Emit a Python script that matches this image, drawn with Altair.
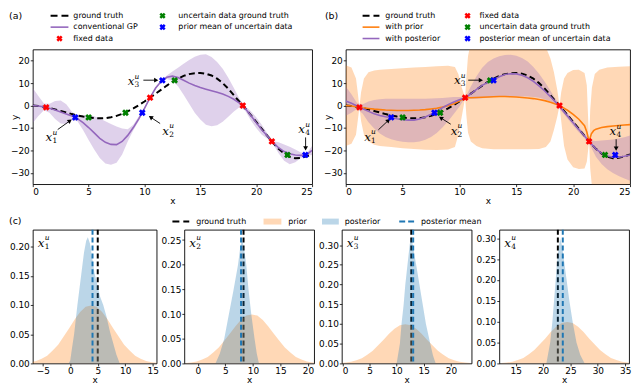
import math
import altair as alt
import pandas as pd

FONT = "DejaVu Sans"
MFONT = "DejaVu Serif"
PURPLE = "#9467bd"
ORANGE = "#ff7f0e"
TBLUE = "#1f77b4"
RED, GREEN, BLUE = "#ff0000", "#008000", "#0000ff"

# ---------------- data ----------------
x_grid = [0.0, 0.5, 1.0, 1.5, 2.0, 2.5, 3.0, 3.5, 4.0, 4.5,
          5.0, 5.5, 6.0, 6.5, 7.0, 7.5, 8.0, 8.5, 9.0, 9.5,
          10.0, 10.5, 11.0, 11.5, 12.0, 12.5, 13.0, 13.5, 14.0, 14.5,
          15.0, 15.5, 16.0, 16.5, 17.0, 17.5, 18.0, 18.5, 19.0, 19.5,
          20.0, 20.5, 21.0, 21.5, 22.0, 22.5, 23.0, 23.5, 24.0, 24.5,
          25.0]
ground_truth = [0.0, -0.2, -0.6, -1.1, -1.7, -2.4, -3.1, -3.8, -4.4, -4.9,
                -5.3, -5.6, -5.7, -5.6, -5.2, -4.6, -3.7, -2.6, -1.3, 0.2,
                1.8, 3.5, 5.3, 7.1, 8.9, 10.6, 12.0, 13.2, 14.0, 14.4,
                14.5, 14.2, 13.4, 12.0, 10.0, 7.5, 4.6, 1.7, -1.2, -4.2,
                -7.3, -10.4, -13.5, -16.6, -19.3, -21.4, -22.8, -23.5, -23.3, -22.6,
                -21.8]
conv_gp_mean = [0.0, -0.2, -0.6, -1.2, -2.0, -2.9, -3.8, -4.7, -5.8, -7.6,
                -9.8, -12.2, -14.6, -16.4, -17.3, -17.4, -16.0, -13.3, -9.8, -5.8,
                -1.3, 3.5, 7.8, 10.8, 12.6, 13.1, 12.5, 11.3, 10.0, 8.9,
                8.0, 7.3, 6.6, 5.9, 5.1, 4.1, 2.8, 1.1, -1.2, -4.3,
                -7.6, -10.8, -13.6, -16.4, -18.8, -20.5, -21.5, -22.0, -22.2, -21.9,
                -20.0]
conv_gp_hi = [7.8, 4.2, 0.9, 0.8, 2.0, 2.2, 0.6, -2.8, -4.6, -4.3,
              -4.2, -4.8, -5.8, -7.0, -8.2, -9.3, -10.2, -10.6, -8.6, -4.8,
              -0.8, 3.5, 8.2, 11.0, 13.4, 15.2, 16.8, 18.6, 20.3, 21.7,
              22.6, 22.9, 21.6, 19.4, 16.4, 12.4, 7.8, 3.0, -0.2, -2.4,
              -5.2, -8.6, -12.4, -15.9, -16.4, -17.4, -18.4, -19.6, -20.9, -21.4,
              -18.0]
conv_gp_lo = [-7.8, -4.6, -2.1, -3.2, -6.0, -8.0, -8.2, -6.6, -7.0, -10.9,
              -15.4, -19.6, -23.4, -25.8, -26.4, -25.5, -21.8, -16.0, -11.0, -6.8,
              -1.8, 3.5, 7.4, 10.6, 11.8, 11.0, 8.6, 4.8, 0.8, -3.2,
              -6.2, -8.6, -9.2, -8.8, -7.2, -5.0, -2.6, -0.8, -2.2, -6.4,
              -10.0, -13.0, -14.8, -17.0, -21.2, -24.6, -26.2, -25.2, -23.4, -22.4,
              -22.0]
post_gp_mean = [2.0, 1.0, -0.2, -1.4, -2.6, -3.6, -4.4, -5.0, -5.4, -5.9,
                -6.3, -6.5, -6.5, -6.0, -5.1, -3.9, -2.5, -1.0, 0.4, 1.6,
                2.6, 3.5, 5.2, 7.2, 9.0, 10.4, 11.5, 12.8, 13.8, 14.2,
                14.1, 13.5, 12.4, 10.8, 8.8, 6.5, 4.0, 1.3, -1.6, -4.6,
                -7.7, -10.7, -13.6, -16.6, -19.3, -21.3, -22.5, -23.0, -23.0, -22.6,
                -22.0]
post_gp_hi = [8.5, 5.0, 1.0, 0.6, 1.8, 2.5, 2.8, 3.0, 3.0, 3.0,
              3.0, 3.0, 3.0, 3.0, 3.0, 3.1, 3.2, 3.4, 3.6, 3.8,
              3.8, 3.5, 8.5, 13.0, 16.8, 19.4, 21.0, 22.0, 22.5, 22.6,
              22.2, 21.2, 19.6, 17.2, 14.2, 10.6, 6.6, 2.6, -0.6, -3.4,
              -6.4, -9.5, -12.6, -15.6, -15.8, -15.6, -15.4, -15.1, -14.7, -14.1,
              -13.3]
post_gp_lo = [-4.5, -3.2, -1.4, -3.6, -7.4, -10.2, -12.4, -14.0, -15.0, -15.7,
              -16.1, -16.3, -16.3, -16.0, -15.2, -14.0, -12.2, -9.8, -7.0, -3.8,
              -0.4, 3.5, 3.0, 3.0, 3.2, 3.5, 3.8, 4.0, 4.0, 4.0,
              4.0, 4.0, 4.0, 3.8, 3.5, 2.8, 1.8, 0.4, -2.6, -5.8,
              -9.0, -11.9, -14.6, -17.8, -22.8, -26.0, -28.4, -30.0, -31.4, -32.5,
              -33.5]
prior_gp_x = [0, 0.5, 1, 1.5, 2, 2.5, 3, 3.5, 4, 4.5,
              5, 5.5, 6, 6.5, 7, 7.5, 8, 8.5, 9, 9.5,
              10, 10.5, 11, 11.5, 12, 12.5, 13, 13.5, 14, 14.5,
              15, 15.5, 16, 16.5, 17, 17.5, 18, 18.5, 19, 19.5,
              20, 20.5, 21, 21.2, 21.4, 21.6, 21.8, 22, 22.5, 23,
              23.5, 24, 24.5, 25]
prior_gp_mean = [0.0, -0.2, -0.6, -1.0, -1.3, -1.6, -1.8, -2.0, -2.1, -2.2,
                 -2.2, -2.2, -2.1, -2.0, -1.8, -1.5, -1.2, -0.7, -0.1, 0.8,
                 2.0, 3.5, 3.5, 3.6, 3.7, 3.8, 3.9, 4.0, 4.0, 3.9,
                 3.8, 3.6, 3.4, 3.1, 2.7, 2.2, 1.5, 0.6, -0.6, -2.1,
                 -3.9, -6.1, -9.0, -11.8, -16.0, -12.6, -11.2, -10.5, -9.8, -9.4,
                 -9.1, -8.9, -8.7, -8.5]
prior_band_x = [0, 0.5, 0.9, 1.05, 1.2, 1.35, 1.6, 2.0, 2.5, 3.0,
                4, 5, 6, 7, 8, 9, 9.6, 9.9, 10.2, 10.5,
                10.6, 10.75, 11.0, 11.5, 12, 13, 14, 15, 16, 17,
                17.6, 18.0, 18.3, 18.6, 18.8, 18.95, 19.2, 19.5, 20, 20.5,
                21, 21.2, 21.4, 21.5, 21.65, 21.9, 22.3, 23, 24, 25]
prior_band_hi = [18, 17, 12, 6, -0.8, 6, 12, 14.8, 15.6, 16,
                 16.3, 16.6, 16.9, 17.2, 17.5, 17.7, 17.2, 14, 8, 3.5,
                 12, 22, 28, 30, 30, 30, 30, 30, 30, 29,
                 26, 21, 15, 7, 0, 6, 12, 14.5, 15.8, 16.0,
                 14.5, 9, -16, -2, 8, 14, 16, 17, 17.3, 17.5]
prior_band_lo = [-18, -17, -13, -7, -0.8, -7, -13, -16, -17.5, -18,
                 -18.5, -19, -19.4, -19.7, -19.8, -19.6, -18.5, -13, -5, 3.5,
                 -4, -12, -16, -18, -19, -19.5, -19.5, -19.5, -19.5, -19.3,
                 -18.5, -16, -11, -5, 0, -7, -18, -24, -27.5, -28.3,
                 -28, -25, -16, -28, -36, -40, -40, -40, -40, -40]

fixed_x = [1.2, 10.5, 18.8, 21.4]
fixed_y = [-0.8, 3.5, 0.0, -16.0]
unc_x = [5.0, 8.3, 12.7, 22.8]
unc_y = [-5.3, -3.2, 11.2, -22.0]
prior_unc_x = [3.8, 9.8, 11.6, 24.4]
post_unc_x = [4.0, 7.8, 13.0, 23.7]

# distributions of the uncertain inputs, panel (c)
prior_offset = [-12, -11, -10, -9, -8, -7, -6, -5, -4, -3, -2, -1, 0,
                1, 2, 3, 4, 5, 6, 7, 8, 9, 10, 11, 12]
prior_density = [0.001, 0.002, 0.004, 0.008, 0.013, 0.022, 0.032, 0.046, 0.060, 0.075,
                 0.088, 0.097, 0.099, 0.097, 0.088, 0.075, 0.060, 0.046, 0.032, 0.022,
                 0.013, 0.008, 0.004, 0.002, 0.001]
prior_center = [3.8, 9.8, 11.6, 24.4]
post1_x = [-0.3, 0.0, 0.3, 0.7, 1.0, 1.3, 1.7, 2.1, 2.5, 2.9, 3.2, 3.6, 4.0, 4.4,
           4.8, 5.4, 6.0, 6.6, 7.2, 7.8, 8.4, 9.0]
post1_d = [0, 0.005, 0.025, 0.05, 0.075, 0.10, 0.13, 0.16, 0.19, 0.21, 0.216, 0.205,
           0.18, 0.155, 0.14, 0.115, 0.10, 0.08, 0.055, 0.035, 0.015, 0]
post2_x = [3.2, 4.0, 4.8, 5.65, 6.5, 7.3, 7.7, 8.04, 8.4, 8.8, 9.2, 9.7, 10.3, 10.7, 11.1]
post2_d = [0, 0.02, 0.05, 0.10, 0.15, 0.20, 0.235, 0.253, 0.232, 0.20, 0.15, 0.10, 0.05, 0.02, 0]
post3_x = [10.0, 10.6, 10.9, 11.3, 11.6, 12.0, 12.4, 12.7, 13.1, 13.6, 14.2, 14.8, 15.4,
           16.2, 16.7, 17.2]
post3_d = [0, 0.05, 0.10, 0.15, 0.20, 0.25, 0.30, 0.322, 0.29, 0.25, 0.20, 0.15, 0.10,
           0.05, 0.02, 0]
post4_x = [20.6, 21.3, 21.7, 22.0, 22.3, 22.6, 23.1, 23.5, 23.8, 24.3, 24.8, 25.4, 26.1,
           26.8, 27.6]
post4_d = [0, 0.05, 0.10, 0.15, 0.20, 0.25, 0.30, 0.28, 0.25, 0.20, 0.15, 0.10, 0.05, 0.02, 0]
dist_truth = [5.0, 8.3, 12.7, 22.7]
dist_post_mean = [4.05, 7.85, 13.05, 23.6]

# annotation positions (data coords)
a_arrow = dict(x0=[2.23, 11.4, 9.9, 24.42], y0=[-10.7, -8.0, 11.3, -14.2],
               x1=[3.33, 10.55, 11.05, 24.42], y1=[-6.8, -5.2, 11.3, -19.1])
a_label = dict(x=[1.45, 11.9, 8.8, 24.07], y=[-14.2, -11.2, 10.9, -10.5])
b_arrow = dict(x0=[2.87, 9.23, 10.77, 23.78], y0=[-10.8, -8.3, 11.3, -15.0],
               x1=[3.75, 8.36, 11.88, 23.78], y1=[-6.6, -5.5, 11.3, -19.2])
b_label = dict(x=[1.92, 9.52, 9.81, 23.5], y=[-13.9, -11.2, 11.3, -11.5])

# ---------------- layout ----------------
WA, WB, HT = 282, 287, 136
WC1, WC, HB = 125, 131, 135
one = pd.DataFrame({"k": [0]})


def xt(field):
    return alt.X(f"{field}:Q", scale=alt.Scale(domain=[0, 25], nice=False, zero=False),
                 axis=alt.Axis(values=[0, 5, 10, 15, 20, 25], format="d", title="x"))


def yt_factory(tx):
    def yt(field):
        return alt.Y(f"{field}:Q", scale=alt.Scale(domain=[-35, 25], nice=False, zero=False),
                     axis=alt.Axis(values=[-30, -20, -10, 0, 10, 20], format="d", title="y",
                                   titleX=tx, titleY=HT / 2))
    return yt


def ptext(txt, px, py, size=8, font=FONT, **kw):
    return alt.Chart(one).mark_text(align="left", baseline="middle", font=font,
                                    fontSize=size, color="black", **kw).encode(
        x=alt.value(px), y=alt.value(py), text=alt.value(txt))


def pline(p0, p1, py, color, dash=None, width=1.6):
    kw = dict(color=color, strokeWidth=width)
    if dash:
        kw["strokeDash"] = dash
    return alt.Chart(one).mark_rule(**kw).encode(x=alt.value(p0), x2=alt.value(p1), y=alt.value(py))


def pmark(px, py, color):
    return alt.Chart(one).mark_point(shape="cross", angle=45, filled=True, size=40,
                                     color=color, opacity=1).encode(x=alt.value(px), y=alt.value(py))


def prect(p0, p1, q0, q1, color):
    return alt.Chart(one).mark_rect(color=color, opacity=0.3).encode(
        x=alt.value(p0), x2=alt.value(p1), y=alt.value(q0), y2=alt.value(q1))


def math_label_px(idx, px, py):
    return [
        ptext("x", px, py, size=12, font=MFONT, fontStyle="italic"),
        ptext("u", px + 7, py - 4.5, size=7.5, font=MFONT, fontStyle="italic"),
        ptext(idx, px + 7, py + 4, size=7.5, font=MFONT),
    ]


def math_labels(lab, X, Y):
    df = pd.DataFrame({"lx": lab["x"], "ly": lab["y"], "i": ["1", "2", "3", "4"]})
    base = alt.Chart(df)
    return [
        base.mark_text(font=MFONT, fontStyle="italic", fontSize=12, align="center",
                       baseline="middle", color="black").encode(x=X("lx"), y=Y("ly"), text=alt.value("x")),
        base.mark_text(font=MFONT, fontStyle="italic", fontSize=7.5, align="left",
                       baseline="middle", dx=3.5, dy=-4.5, color="black").encode(
            x=X("lx"), y=Y("ly"), text=alt.value("u")),
        base.mark_text(font=MFONT, fontSize=7.5, align="left", baseline="middle",
                       dx=3.5, dy=4, color="black").encode(x=X("lx"), y=Y("ly"), text="i:N"),
    ]


def arrows(ar, sx, X, Y):
    sy = HT / 60
    ang = [(math.degrees(math.atan2((b - a) * sx, (d - c) * sy)) + 360) % 360
           for a, b, c, d in zip(ar["x0"], ar["x1"], ar["y0"], ar["y1"])]
    df = pd.DataFrame({"ax0": ar["x0"], "ay0": ar["y0"], "ax1": ar["x1"], "ay1": ar["y1"], "ang": ang})
    base = alt.Chart(df)
    shaft = base.mark_rule(color="black", strokeWidth=0.9).encode(
        x=X("ax0"), y=Y("ay0"), x2="ax1", y2="ay1")
    head = base.mark_point(shape="triangle-up", filled=True, size=24, color="black", opacity=1).encode(
        x=X("ax1"), y=Y("ay1"), angle=alt.Angle("ang:Q", scale=None))
    return [shaft, head]


def points(xs, ys, colors, X, Y):
    df = pd.DataFrame({"qx": xs, "qy": ys, "c": colors})
    return alt.Chart(df).mark_point(shape="cross", angle=45, filled=True, size=48, opacity=1).encode(
        x=X("qx"), y=Y("qy"), color=alt.Color("c:N", scale=None))


# ---------- panel (a) ----------
YA = yt_factory(-13)
df_a = pd.DataFrame({"x": x_grid, "gt": ground_truth, "m": conv_gp_mean,
                     "lo": conv_gp_lo, "hi": conv_gp_hi})
base_a = alt.Chart(df_a)
R1, R2, R3 = -34, -22.5, -11
layers_a = [
    base_a.mark_area(color=PURPLE, opacity=0.3, clip=True).encode(x=xt("x"), y=YA("lo"), y2="hi"),
    base_a.mark_line(color="black", strokeDash=[6, 3.5], strokeWidth=2, clip=True).encode(x=xt("x"), y=YA("gt")),
    base_a.mark_line(color=PURPLE, strokeWidth=1.6, clip=True).encode(x=xt("x"), y=YA("m")),
    *arrows(a_arrow, WA / 25, xt, YA),
    *math_labels(a_label, xt, YA),
    points(fixed_x + unc_x + prior_unc_x, fixed_y + unc_y + unc_y,
           [RED] * 4 + [GREEN] * 4 + [BLUE] * 4, xt, YA),
    ptext("(a)", -24, R1, size=9.5),
    pline(18, 36, R1, "black", [7, 4], 2), ptext("ground truth", 41, R1),
    pline(18, 36, R2, PURPLE), ptext("conventional GP", 41, R2),
    pmark(27, R3, RED), ptext("fixed data", 41, R3),
    pmark(131, R1, GREEN), ptext("uncertain data ground truth", 147, R1),
    pmark(131, R2, BLUE), ptext("prior mean of uncertain data", 147, R2),
]
panel_a = alt.layer(*layers_a).properties(width=WA, height=HT)

# ---------- panel (b) ----------
YB = yt_factory(-13)
df_b = pd.DataFrame({"x": x_grid, "gt": ground_truth, "m": post_gp_mean,
                     "lo": post_gp_lo, "hi": post_gp_hi})
df_pb = pd.DataFrame({"x": prior_band_x, "lo": prior_band_lo, "hi": prior_band_hi})
df_pm = pd.DataFrame({"x": prior_gp_x, "m": prior_gp_mean})
layers_b = [
    alt.Chart(df_pb).mark_area(color=ORANGE, opacity=0.3, clip=True).encode(x=xt("x"), y=YB("lo"), y2="hi"),
    alt.Chart(df_b).mark_area(color=PURPLE, opacity=0.3, clip=True).encode(x=xt("x"), y=YB("lo"), y2="hi"),
    alt.Chart(df_b).mark_line(color="black", strokeDash=[6, 3.5], strokeWidth=2, clip=True).encode(x=xt("x"), y=YB("gt")),
    alt.Chart(df_pm).mark_line(color=ORANGE, strokeWidth=1.6, clip=True).encode(x=xt("x"), y=YB("m")),
    alt.Chart(df_b).mark_line(color=PURPLE, strokeWidth=1.6, clip=True).encode(x=xt("x"), y=YB("m")),
    *arrows(b_arrow, WB / 25, xt, YB),
    *math_labels(b_label, xt, YB),
    points(fixed_x + unc_x + post_unc_x, fixed_y + unc_y + unc_y,
           [RED] * 4 + [GREEN] * 4 + [BLUE] * 4, xt, YB),
    ptext("(b)", -21, R1, size=9.5),
    pline(17, 34, R1, "black", [7, 4], 2), ptext("ground truth", 40, R1),
    pline(17, 34, R2, ORANGE), ptext("with prior", 40, R2),
    pline(17, 34, R3, PURPLE), ptext("with posterior", 40, R3),
    pmark(123, R1, RED), ptext("fixed data", 135, R1),
    pmark(123, R2, GREEN), ptext("uncertain data ground truth", 135, R2),
    pmark(123, R3, BLUE), ptext("posterior mean of uncertain data", 135, R3),
]
panel_b = alt.layer(*layers_b).properties(width=WB, height=HT)


# ---------- panel (c) ----------
def dist_panel(k, width, px, pdens, xdom, ydom, xticks, yticks, extra):
    def X(f):
        return alt.X(f"{f}:Q", scale=alt.Scale(domain=xdom, nice=False, zero=False),
                     axis=alt.Axis(values=xticks, format="d", title="x"))

    def Y(f):
        return alt.Y(f"{f}:Q", scale=alt.Scale(domain=ydom, nice=False, zero=False),
                     axis=alt.Axis(values=yticks, format=".2f", title=None))

    prior_df = pd.DataFrame({"x": [prior_center[k] + o for o in prior_offset], "d": prior_density})
    post_df = pd.DataFrame({"x": px, "d": pdens})
    layers = [
        alt.Chart(pd.DataFrame({"x": [dist_truth[k]]})).mark_rule(
            color="black", strokeDash=[5, 3], strokeWidth=2).encode(x=X("x")),
        alt.Chart(prior_df).mark_area(color=ORANGE, opacity=0.3, clip=True).encode(x=X("x"), y=Y("d")),
        alt.Chart(post_df).mark_area(color=TBLUE, opacity=0.3, clip=True).encode(x=X("x"), y=Y("d")),
        alt.Chart(pd.DataFrame({"x": [dist_post_mean[k]]})).mark_rule(
            color=TBLUE, strokeDash=[5, 3], strokeWidth=2).encode(x=X("x")),
        *math_label_px(str(k + 1), 5, 13),
        *extra,
    ]
    return alt.layer(*layers).properties(width=width, height=HB)


LY = -8.2
legend_c = [
    ptext("(c)", -24, -9, size=9.5),
    pline(141, 158, LY, "black", [7, 4], 2), ptext("ground truth", 165, LY),
    prect(233, 251, LY - 3, LY + 3, ORANGE), ptext("prior", 258, LY),
    prect(292, 309, LY - 3, LY + 3, TBLUE), ptext("posterior", 315, LY),
    pline(370, 385, LY, TBLUE, [6, 3], 2), ptext("posterior mean", 392, LY),
]
c1 = dist_panel(0, WC1, post1_x, post1_d, [-6.82, 15.7], [0, 0.229],
                [-5, 0, 5, 10, 15], [0, 0.05, 0.10, 0.15, 0.20], legend_c)
c2 = dist_panel(1, WC, post2_x, post2_d, [-2.45, 21.1], [0, 0.271],
                [0, 5, 10, 15, 20], [0, 0.05, 0.10, 0.15, 0.20, 0.25], [])
c3 = dist_panel(2, WC, post3_x, post3_d, [-0.1, 23.8], [0, 0.339],
                [0, 5, 10, 15, 20], [0, 0.05, 0.10, 0.15, 0.20, 0.25, 0.30], [])
c4 = dist_panel(3, WC, post4_x, post4_d, [12.0, 35.7], [0, 0.3206],
                [15, 20, 25, 30, 35], [0, 0.05, 0.10, 0.15, 0.20, 0.25, 0.30], [])

top = alt.hconcat(panel_a, panel_b, spacing=34, bounds="flush")
bottom = alt.hconcat(c1, c2, c3, c4, spacing=28, bounds="flush")

chart = alt.vconcat(top, bottom, spacing=9).properties(
    padding=0
).configure_axis(
    labelFont=FONT, labelFontSize=9, labelColor="black", tickColor="black",
    tickSize=2.5, tickWidth=0.8, labelPadding=1, domain=False, grid=False,
    titleFont=FONT, titleFontSize=9, titleFontWeight="normal", titleColor="black",
    titlePadding=0,
).configure_view(stroke="black", strokeWidth=0.9)

chart.save("out.html", embed_options={"renderer": "svg", "actions": False})
